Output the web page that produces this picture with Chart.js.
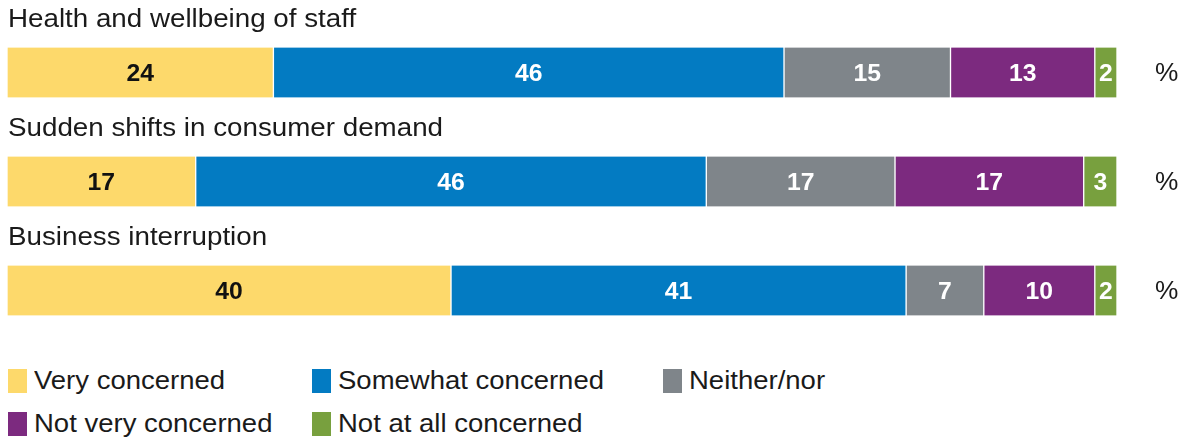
<!DOCTYPE html>
<html>
<head>
<meta charset="utf-8">
<script src="https://cdn.jsdelivr.net/npm/chart.js@4"></script>
<style>
  body { margin: 0; background: #fff; font-family: "Liberation Sans", Arial, sans-serif; }
  #wrap { position: relative; width: 1189px; height: 437px; }
  #chart { position: absolute; left: 0; top: 0; }
  .leyenda { position: absolute; display: flex; align-items: center; font-size: 25px; color: #1a1a1a; }
  .leyenda span.caja { display: inline-block; width: 19px; height: 24px; margin-right: 7px; }
  .leyenda span.txt { display: inline-block; transform: scaleX(1.1); transform-origin: left center; white-space: nowrap; }
</style>
</head>
<body>
<div id="wrap">
  <canvas id="chart" width="1189" height="360"></canvas>
  <div id="leyendas"></div>
</div>
<script>
// Datos del grafico
const categorias = ["Health and wellbeing of staff", "Sudden shifts in consumer demand", "Business interruption"];
const series = ["Very concerned", "Somewhat concerned", "Neither/nor", "Not very concerned", "Not at all concerned"];
const muyPreocupado = [24, 17, 40];
const algoPreocupado = [46, 46, 41];
const niNi = [15, 17, 7];
const pocoPreocupado = [13, 17, 10];
const nadaPreocupado = [2, 3, 2];
const colores = ["#FDD96B", "#037BC2", "#7F858A", "#7C2A7F", "#78A03E"];
const coloresTexto = ["#111111", "#ffffff", "#ffffff", "#ffffff", "#ffffff"];

const valores = [muyPreocupado, algoPreocupado, niNi, pocoPreocupado, nadaPreocupado];

// texto un poco ensanchado, como en la imagen original
function textoAncho(ctx, texto, x, y, escala) {
  ctx.save();
  ctx.translate(x, y);
  ctx.scale(escala, 1);
  ctx.fillText(texto, 0, 0);
  ctx.restore();
}

// Titulos encima de cada barra, etiquetas y el signo %
const etiquetasPlugin = {
  id: "etiquetas",
  afterDatasetsDraw(chart) {
    const ctx = chart.ctx;
    ctx.save();
    chart.data.datasets.forEach((ds, i) => {
      const meta = chart.getDatasetMeta(i);
      meta.data.forEach((bar, j) => {
        ctx.fillStyle = coloresTexto[i];
        ctx.font = "bold 24px 'Liberation Sans', Arial";
        ctx.textAlign = "center";
        ctx.textBaseline = "middle";
        textoAncho(ctx, ds.data[j], (bar.x + bar.base) / 2, bar.y + 2, 1.03);
      });
    });
    const meta0 = chart.getDatasetMeta(0);
    meta0.data.forEach((bar, j) => {
      ctx.fillStyle = "#1a1a1a";
      ctx.font = "25px 'Liberation Sans', Arial";
      ctx.textAlign = "left";
      ctx.textBaseline = "middle";
      textoAncho(ctx, categorias[j], chart.chartArea.left + 1, bar.y - 52, 1.11);
      textoAncho(ctx, "%", 1155, bar.y + 2, 1.05);
    });
    ctx.restore();
  }
};

new Chart(document.getElementById("chart").getContext("2d"), {
  type: "bar",
  data: {
    labels: categorias,
    datasets: series.map((s, i) => ({
      label: s,
      data: valores[i],
      backgroundColor: colores[i],
      borderColor: "#ffffff",
      borderWidth: { left: 1, right: 1, top: 0, bottom: 0 },
      borderSkipped: false,
      barThickness: 50
    }))
  },
  options: {
    indexAxis: "y",
    responsive: false,
    animation: false,
    layout: { padding: { left: 7, right: 72, top: 18, bottom: 15 } },
    scales: {
      x: { stacked: true, min: 0, max: 100, display: false },
      y: { stacked: true, display: false }
    },
    plugins: {
      legend: { display: false },
      tooltip: { enabled: false }
    }
  },
  plugins: [etiquetasPlugin]
});

// Leyenda en HTML
const posLeyenda = [[8, 366], [312, 366], [663, 366], [8, 409], [312, 409]];
const cont = document.getElementById("leyendas");
series.forEach((s, i) => {
  const d = document.createElement("div");
  d.className = "leyenda";
  d.style.left = posLeyenda[i][0] + "px";
  d.style.top = posLeyenda[i][1] + "px";
  d.innerHTML = '<span class="caja" style="background:' + colores[i] + '"></span><span class="txt">' + s + '</span>';
  cont.appendChild(d);
});
</script>
</body>
</html>
